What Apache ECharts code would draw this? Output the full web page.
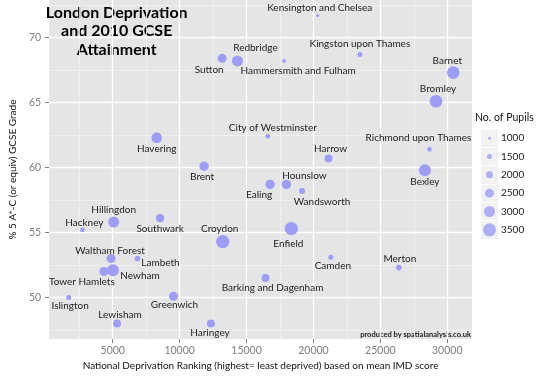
<!DOCTYPE html>
<html>
<head>
<meta charset="utf-8">
<script src="https://cdn.jsdelivr.net/npm/echarts@6/dist/echarts.min.js"></script>
<style>
  html, body { margin: 0; padding: 0; background: #fff; }
  #chart { width: 550px; height: 376px; }
</style>
</head>
<body>
<div id="chart"></div>
<script>
var boroughs = [
  'Kensington and Chelsea', 'Kingston upon Thames', 'Redbridge', 'Sutton',
  'Hammersmith and Fulham', 'Barnet', 'Bromley', 'City of Westminster',
  'Havering', 'Richmond upon Thames', 'Harrow', 'Brent', 'Hounslow', 'Ealing',
  'Wandsworth', 'Bexley', 'Hillingdon', 'Hackney', 'Southwark', 'Croydon',
  'Enfield', 'Waltham Forest', 'Lambeth', 'Newham', 'Tower Hamlets', 'Camden',
  'Merton', 'Barking and Dagenham', 'Islington', 'Greenwich', 'Lewisham', 'Haringey'
];
var ranking = [
  20320, 23470, 14320, 13180,
  17810, 30450, 29160, 16590,
  8290, 28670, 21130, 11830, 17980, 16760,
  19150, 28330, 5070, 2730, 8540, 13220,
  18350, 4880, 6850, 5020, 4340, 21300,
  26380, 16420, 1710, 9540, 5320, 12340
];
var gcse = [
  71.7, 68.7, 68.2, 68.4,
  68.2, 67.3, 65.1, 62.4,
  62.3, 61.4, 60.7, 60.1, 58.7, 58.7,
  58.2, 59.8, 55.8, 55.2, 56.1, 54.3,
  55.3, 53.0, 53.0, 52.1, 52.0, 53.1,
  52.3, 51.5, 50.0, 50.1, 48.0, 48.0
];
var pupils = [
  1000, 1500, 3000, 2500,
  1200, 3400, 3400, 1400,
  2900, 1400, 2250, 2600, 2600, 2600,
  1750, 3250, 3000, 1400, 2300, 3600,
  3600, 2500, 1650, 3250, 2500, 1500,
  1650, 2250, 1500, 2500, 2250, 2250
];
var xTicks = [5000, 10000, 15000, 20000, 25000, 30000];
var xMinorTicks = [2500, 7500, 12500, 17500, 22500, 27500];
var yTicks = [50, 55, 60, 65, 70];
var yMinorTicks = [47.5, 52.5, 57.5, 62.5, 67.5, 72.5];
var legendPupils = [1000, 1500, 2000, 2500, 3000, 3500];

// where each name sits relative to its dot, in px
var labelNudge = {
  'Kensington and Chelsea': [2, -8], 'Kingston upon Thames': [0, -11],
  'Redbridge': [18, -13], 'Sutton': [-13, 11], 'Hammersmith and Fulham': [14, 10],
  'Barnet': [-6, -12], 'Bromley': [2, -12], 'City of Westminster': [5, -9],
  'Havering': [0, 11], 'Richmond upon Thames': [-11, -12], 'Harrow': [2, -10],
  'Brent': [-2, 11], 'Hounslow': [18, -9], 'Ealing': [-11, 10],
  'Wandsworth': [20, 11], 'Bexley': [0, 12], 'Hillingdon': [0, -12],
  'Hackney': [2, -7], 'Southwark': [0, 11], 'Croydon': [-3, -13],
  'Enfield': [-3, 15], 'Waltham Forest': [-1, -8], 'Lambeth': [23, 4],
  'Newham': [27, 6], 'Tower Hamlets': [-22, 10], 'Camden': [2, 9],
  'Merton': [1, -9], 'Barking and Dagenham': [7, 10], 'Islington': [1.5, 8],
  'Greenwich': [1, 9], 'Lewisham': [3, -9], 'Haringey': [-1, 9]
};

var FONT = 'Lato';
var DOT = '#9d9df6';

function dotSize(n) {
  return 3 + (n - 1000) * 0.004;
}

var chart = echarts.init(document.getElementById('chart'));

var gridLines = [];
xMinorTicks.forEach(function (v) { gridLines.push({ xAxis: v, lineStyle: { color: '#f2f2f2', width: 0.8, type: 'solid' } }); });
yMinorTicks.forEach(function (v) { gridLines.push({ yAxis: v, lineStyle: { color: '#f2f2f2', width: 0.8, type: 'solid' } }); });
xTicks.forEach(function (v) { gridLines.push({ xAxis: v, lineStyle: { color: '#fff', width: 1.3, type: 'solid' } }); });
yTicks.forEach(function (v) { gridLines.push({ yAxis: v, lineStyle: { color: '#fff', width: 1.3, type: 'solid' } }); });

var points = boroughs.map(function (b, i) {
  return {
    name: b,
    value: [ranking[i], gcse[i], pupils[i]],
    label: { offset: labelNudge[b] }
  };
});

var option = {
  animation: false,
  textStyle: { fontFamily: FONT },
  grid: [
    { left: 40, top: 0, width: 432, height: 340, show: true, backgroundColor: '#e5e5e5', borderWidth: 0 },
    { left: 481, top: 129, width: 17, height: 110, show: true, backgroundColor: '#f2f2f2', borderWidth: 0 }
  ],
  xAxis: [{
    gridIndex: 0,
    type: 'value',
    min: 244,
    max: 31850,
    axisLine: { show: false },
    axisTick: { show: true, length: 4, customValues: xTicks, lineStyle: { color: '#7f7f7f' } },
    axisLabel: { customValues: xTicks, color: '#7f7f7f', fontSize: 10.5, margin: 6, fontFamily: FONT,
      formatter: function (v) { return String(v); } },
    splitLine: { show: false },
    name: 'National Deprivation Ranking (highest= least deprived) based on mean IMD score',
    nameLocation: 'middle',
    nameGap: 20,
    nameTextStyle: { color: '#111', fontSize: 10, fontFamily: FONT }
  }, {
    gridIndex: 1,
    type: 'value',
    min: -1,
    max: 1,
    show: false
  }],
  yAxis: [{
    gridIndex: 0,
    type: 'value',
    min: 46.8,
    max: 72.89,
    axisLine: { show: false },
    axisTick: { show: true, length: 4, customValues: yTicks, lineStyle: { color: '#7f7f7f' } },
    axisLabel: { customValues: yTicks, color: '#7f7f7f', fontSize: 10.5, margin: 8, fontFamily: FONT },
    splitLine: { show: false },
    name: '% 5 A*-C (or equiv) GCSE Grade',
    nameLocation: 'middle',
    nameGap: 26,
    nameTextStyle: { color: '#111', fontSize: 10, fontFamily: FONT }
  }, {
    gridIndex: 1,
    type: 'category',
    data: legendPupils.map(String),
    inverse: true,
    position: 'right',
    axisLine: { show: false },
    axisTick: { show: false },
    axisLabel: { color: '#222', fontSize: 10, margin: 3, fontFamily: FONT },
    splitLine: { show: true, lineStyle: { color: '#fff', width: 1 } }
  }],
  graphic: [
    { type: 'text', x: 116.7, y: 12.5, style: { text: 'London Deprivation', fill: '#000', font: 'bold 16px ' + FONT, textAlign: 'center', textVerticalAlign: 'middle' } },
    { type: 'text', x: 116.7, y: 31, style: { text: 'and 2010 GCSE', fill: '#000', font: 'bold 16px ' + FONT, textAlign: 'center', textVerticalAlign: 'middle' } },
    { type: 'text', x: 116.7, y: 50, style: { text: 'Attainment', fill: '#000', font: 'bold 16px ' + FONT, textAlign: 'center', textVerticalAlign: 'middle' } },
    { type: 'text', x: 471, y: 335, style: { text: 'produced by spatialanalysis.co.uk', fill: '#222', font: 'bold 7.5px ' + FONT, textAlign: 'right', textVerticalAlign: 'middle' } },
    { type: 'text', x: 475, y: 118, style: { text: 'No. of Pupils', fill: '#111', font: '10.5px ' + FONT, textAlign: 'left', textVerticalAlign: 'middle' } }
  ],
  series: [{
    type: 'line',
    xAxisIndex: 0,
    yAxisIndex: 0,
    data: [],
    silent: true,
    z: 1,
    markLine: {
      silent: true,
      symbol: ['none', 'none'],
      label: { show: false },
      animation: false,
      z: 1,
      data: gridLines
    }
  }, {
    type: 'scatter',
    xAxisIndex: 0,
    yAxisIndex: 0,
    z: 10,
    data: points,
    symbolSize: function (v) { return dotSize(v[2]); },
    itemStyle: { color: DOT, opacity: 1 },
    label: {
      show: true,
      position: 'inside',
      formatter: '{b}',
      color: '#222',
      fontSize: 10,
      fontFamily: FONT,
      textBorderWidth: 0
    },
    emphasis: { disabled: true }
  }, {
    type: 'scatter',
    xAxisIndex: 1,
    yAxisIndex: 1,
    data: legendPupils.map(function (n) { return [0, String(n)]; }),
    symbolSize: function (v) { return dotSize(+v[1]); },
    itemStyle: { color: DOT },
    emphasis: { disabled: true }
  }]
};

chart.setOption(option);
</script>
</body>
</html>
